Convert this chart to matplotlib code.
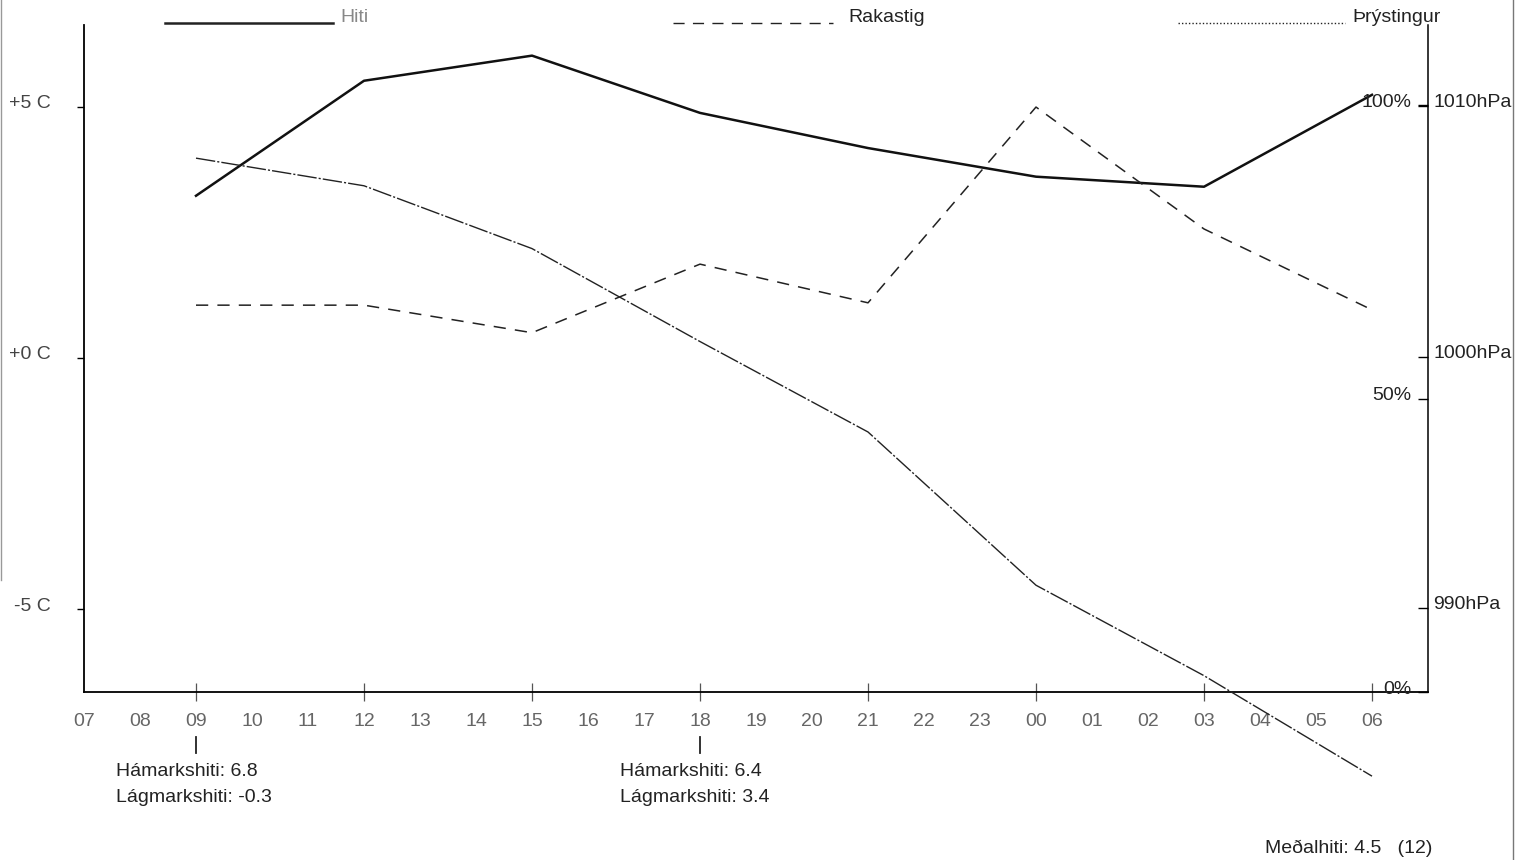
import matplotlib
matplotlib.use('Agg')
import matplotlib.pyplot as plt
from matplotlib.lines import Line2D
from matplotlib.transforms import ScaledTranslation, blended_transform_factory

plt.rcParams['font.family'] = ['Liberation Sans', 'DejaVu Sans']
plt.rcParams['font.size'] = 14

# ── Data ───────────────────────────────────────────────────────────────
hour_labels = ["07", "08", "09", "10", "11", "12", "13", "14", "15", "16", "17", "18",
               "19", "20", "21", "22", "23", "00", "01", "02", "03", "04", "05", "06"]
# readings every 3 hours: 09, 12, 15, 18, 21, 00, 03, 06 (position = hours after 07)
sample_pos = [2, 5, 8, 11, 14, 17, 20, 23]
hiti = [3.23, 5.52, 6.02, 4.88, 4.18, 3.61, 3.41, 5.24]            # °C
rakastig = [66.0, 66.0, 61.3, 73.0, 66.4, 99.8, 79.0, 65.2]        # %
thrystingur = [1007.9, 1006.8, 1004.3, 1000.6, 997.0, 990.9, 987.3, 983.3]  # hPa

temp_ticks = [-5, 0, 5]
temp_labels = ["-5 C", "+0 C", "+5 C"]
hum_ticks = [0, 50, 100]
hum_labels = ["0%", "50%", "100%"]
pres_ticks = [990, 1000, 1010]
pres_labels = ["990hPa", "1000hPa", "1010hPa"]

# daily max / min marks (position, max, min)
day_pos = [2, 11]
day_max = [6.8, 6.4]
day_min = [-0.3, 3.4]
mean_temp = 4.5
mean_count = 12

# ── Figure ─────────────────────────────────────────────────────────────
W, H = 1532, 860
fig = plt.figure(figsize=(W / 100, H / 100), dpi=100)
ax = fig.add_axes([84 / W, 1 - 692 / H, (1428 - 84) / W, (692 - 25) / H])
ax_h = ax.twinx()
ax_p = ax.twinx()

ax.set_xlim(0, 24)
ax.set_ylim(-6.65, 6.63)
ax_h.set_ylim(0, 113.8)
ax_p.set_ylim(986.65, 1013.2)

for a in (ax, ax_h, ax_p):
    for s in a.spines.values():
        s.set_visible(False)
    a.patch.set_visible(False)

ax.spines['left'].set_visible(True)
ax.spines['bottom'].set_visible(True)
ax.spines['left'].set_linewidth(1.3)
ax.spines['bottom'].set_linewidth(1.3)
ax_p.spines['right'].set_visible(True)
ax_p.spines['right'].set_linewidth(1.1)

# lines
ax.plot(sample_pos, hiti, color='#111111', lw=1.8, solid_joinstyle='round')
ax_h.plot(sample_pos, rakastig, color='#222222', lw=1.1, ls=(0, (8, 6)))
ax_p.plot(sample_pos, thrystingur, color='#222222', lw=1.0,
          ls=(0, (14, 1.5, 1.5, 1.5)), clip_on=False)

# x axis
ax.xaxis.remove_overlapping_locs = False
ax.set_xticks(range(len(hour_labels)))
ax.set_xticklabels(hour_labels, color='#666666')
ax.tick_params(axis='x', which='major', length=0, pad=15)
ax.set_xticks(sample_pos, minor=True)
ax.tick_params(axis='x', which='minor', direction='inout', length=13,
               width=0.9, color='#555555')

# left: temperature
ax.set_yticks(temp_ticks)
ax.set_yticklabels(temp_labels, color='#444444')
ax.tick_params(axis='y', direction='out', length=5, width=1, pad=19)

# right: humidity (labels inside, left of right spine)
ax_h.spines['left'].set_position(('axes', 1.0))
ax_h.yaxis.set_ticks_position('left')
ax_h.yaxis.set_label_position('left')
ax_h.set_yticks(hum_ticks)
ax_h.set_yticklabels(hum_labels, color='#222222')
ax_h.tick_params(axis='y', direction='out', length=7, width=1, pad=5)

# right: pressure (labels outside right spine)
ax_p.set_yticks(pres_ticks)
ax_p.set_yticklabels(pres_labels, color='#222222')
ax_p.tick_params(axis='y', direction='in', length=7, width=1, pad=4)

up = ScaledTranslation(0, 5 / 100, fig.dpi_scale_trans)
for lab in ax.get_yticklabels() + ax_h.get_yticklabels() + ax_p.get_yticklabels():
    lab.set_transform(lab.get_transform() + up)

# ── Legend along the top ───────────────────────────────────────────────
def fx(px):
    return px / W

def fy(py):
    return 1 - py / H

legend_items = [("Hiti", '-', 1.8, 165, 333, 340),
                ("Rakastig", (0, (8, 6)), 1.0, 673, 833, 848),
                ("Þrýstingur", (0, (1, 1.5)), 1.0, 1178, 1345, 1352)]
for name, ls, lw, x0, x1, xt in legend_items:
    fig.add_artist(Line2D([fx(x0), fx(x1)], [fy(23), fy(23)], color='#222222', ls=ls, lw=lw))
    fig.text(fx(xt), fy(18), name, ha='left', va='center',
             color='#888888' if name == "Hiti" else '#222222')

# ── Daily max / min notes ──────────────────────────────────────────────
tr = blended_transform_factory(ax.transData, fig.transFigure)
shift = ScaledTranslation(-80 / 100, 0, fig.dpi_scale_trans)
for p, mx, mn in zip(day_pos, day_max, day_min):
    ax.add_artist(Line2D([p, p], [fy(737), fy(753)], transform=tr, color='#222222',
                         lw=1.3, clip_on=False))
    ax.text(p, fy(772), f"Hámarkshiti: {mx}", transform=tr + shift,
            ha='left', va='center', color='#222222')
    ax.text(p, fy(797), f"Lágmarkshiti: {mn}", transform=tr + shift,
            ha='left', va='center', color='#222222')

fig.text(fx(1265), fy(848), f"Meðalhiti: {mean_temp}   ({mean_count})",
         ha='left', va='center', color='#222222')

# scan edges
fig.add_artist(Line2D([fx(1513), fx(1513)], [0, 1], color='#777777', lw=1.0))
fig.add_artist(Line2D([fx(1), fx(1)], [fy(580), 1], color='#999999', lw=1.0))

fig.savefig("out.png", dpi=100)
